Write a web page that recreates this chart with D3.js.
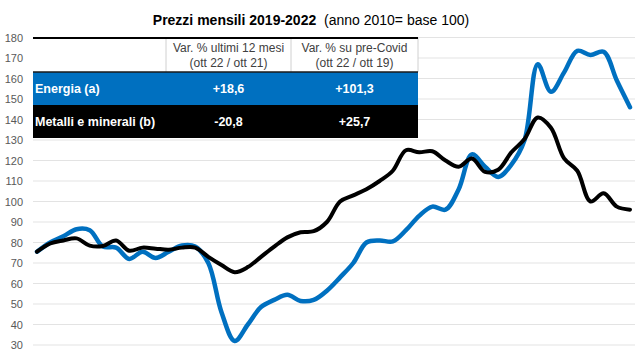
<!DOCTYPE html>
<html>
<head>
<meta charset="utf-8">
<script src="https://cdn.jsdelivr.net/npm/d3@7/dist/d3.min.js"></script>
<style>
  html, body { margin: 0; padding: 0; background: #fff; }
  svg { display: block; font-family: "Liberation Sans", Arial, sans-serif; }
</style>
</head>
<body>
<svg id="chart" width="643" height="362"></svg>
<script>
// ---- data ----
const months = [
  "gen 19","feb 19","mar 19","apr 19","mag 19","giu 19","lug 19","ago 19","set 19","ott 19","nov 19","dic 19",
  "gen 20","feb 20","mar 20","apr 20","mag 20","giu 20","lug 20","ago 20","set 20","ott 20","nov 20","dic 20",
  "gen 21","feb 21","mar 21","apr 21","mag 21","giu 21","lug 21","ago 21","set 21","ott 21","nov 21","dic 21",
  "gen 22","feb 22","mar 22","apr 22","mag 22","giu 22","lug 22","ago 22","set 22","ott 22"
];
const energia = [
  75.5, 80, 83, 86.5, 86, 78, 77.5, 72, 75.5, 72.5, 75.5, 78.5,
  78, 70, 46, 32, 40, 48.5, 52, 54.5, 51.5, 52, 56.5, 63,
  70, 80, 81, 80.5, 86, 93, 97.5, 96, 106, 123, 117, 112,
  118, 130, 167, 153.5, 163, 173.5, 171.5, 173, 159, 146
];
const metalli = [
  75.5, 79.5, 81, 82, 78.5, 78.3, 81, 76, 77.5, 77, 76.5, 77.5,
  77.5, 73, 69, 65.5, 68, 73, 78, 82.5, 85, 85.5, 90, 100,
  103, 106, 110, 115, 125, 124, 124.5, 120, 117, 121, 114.5, 115.5,
  124, 130.5, 141, 136, 121, 115, 100, 104, 97.5, 96
];
const yTicks = [20, 30, 40, 50, 60, 70, 80, 90, 100, 110, 120, 130, 140, 150, 160, 170, 180];

const titleBold = "Prezzi mensili 2019-2022";
const titleRest = "  (anno 2010= base 100)";
const colHeaders = [["Var. % ultimi 12 mesi", "(ott 22 / ott 21)"], ["Var. % su pre-Covid", "(ott 22 / ott 19)"]];
const rowLabels = ["Energia (a)", "Metalli e minerali (b)"];
const var12 = ["+18,6", "-20,8"];
const varCovid = ["+101,3", "+25,7"];
const seriesColors = ["#0070C0", "#000000"];

// ---- chart ----
const svg = d3.select("#chart");
const plotLeft = 33, plotRight = 635;
const x = d3.scalePoint().domain(months).range([37, 630]);
const y = d3.scaleLinear().domain([20, 180]).range([365.5, 37.5]);

// title
const t = svg.append("text").attr("x", 311).attr("y", 25).attr("text-anchor", "middle")
  .attr("font-size", 14).attr("fill", "#000");
t.append("tspan").attr("font-weight", "bold").text(titleBold);
t.append("tspan").attr("xml:space", "preserve").style("white-space", "pre").text(titleRest);

// gridlines
svg.append("g").selectAll("line").data(yTicks).join("line")
  .attr("x1", plotLeft).attr("x2", plotRight)
  .attr("y1", d => y(d)).attr("y2", d => y(d))
  .attr("stroke", "#e3e3e3").attr("stroke-width", 1);

// y axis labels
const yAxis = d3.axisLeft(y).tickValues(yTicks).tickSize(0).tickPadding(0);
const ga = svg.append("g").attr("transform", "translate(23,0)").call(yAxis);
ga.select(".domain").remove();
ga.selectAll("text").attr("font-size", 11).attr("fill", "#595959")
  .attr("font-family", "'Liberation Sans', Arial, sans-serif");

// lines
const line = d3.line().x((d, i) => x(months[i])).y(d => y(d)).curve(d3.curveCatmullRom.alpha(0.5));
svg.append("path").datum(energia).attr("d", line)
  .attr("fill", "none").attr("stroke", seriesColors[0]).attr("stroke-width", 4.5)
  .attr("stroke-linejoin", "round").attr("stroke-linecap", "round");
svg.append("path").datum(metalli).attr("d", line)
  .attr("fill", "none").attr("stroke", seriesColors[1]).attr("stroke-width", 4)
  .attr("stroke-linejoin", "round").attr("stroke-linecap", "round");

// table
const cx = [33, 166, 291, 418];
const ry = [38, 72, 105, 138];
const tbl = svg.append("g");
tbl.append("rect").attr("x", cx[0]).attr("y", ry[0]).attr("width", cx[3] - cx[0]).attr("height", ry[1] - ry[0])
  .attr("fill", "#fff");
[1, 2].forEach(k => {
  tbl.append("line").attr("x1", cx[k]).attr("x2", cx[k]).attr("y1", ry[0]).attr("y2", ry[1])
    .attr("stroke", "#d0d0d0").attr("stroke-width", 1);
});
tbl.append("line").attr("x1", cx[3]).attr("x2", cx[3]).attr("y1", ry[0]).attr("y2", ry[1])
  .attr("stroke", "#d0d0d0").attr("stroke-width", 1);
tbl.append("line").attr("x1", cx[0]).attr("x2", cx[3]).attr("y1", ry[0]).attr("y2", ry[0])
  .attr("stroke", "#000").attr("stroke-width", 2);
colHeaders.forEach((h, k) => {
  const mid = (cx[k + 1] + cx[k + 2]) / 2;
  h.forEach((s, j) => {
    tbl.append("text").attr("x", mid).attr("y", 52 + j * 15).attr("text-anchor", "middle")
      .attr("font-size", 12).attr("fill", "#404040").text(s);
  });
});
rowLabels.forEach((lab, r) => {
  tbl.append("rect").attr("x", cx[0]).attr("y", ry[r + 1]).attr("width", cx[3] - cx[0])
    .attr("height", ry[r + 2] - ry[r + 1]).attr("fill", seriesColors[r]);
  const cy = (ry[r + 1] + ry[r + 2]) / 2 + 4.5;
  tbl.append("text").attr("x", 35).attr("y", cy).attr("font-size", 12.5).attr("font-weight", "bold")
    .attr("fill", "#fff").text(lab);
  tbl.append("text").attr("x", (cx[1] + cx[2]) / 2).attr("y", cy).attr("text-anchor", "middle")
    .attr("font-size", 12.5).attr("font-weight", "bold").attr("fill", "#fff").text(var12[r]);
  tbl.append("text").attr("x", (cx[2] + cx[3]) / 2).attr("y", cy).attr("text-anchor", "middle")
    .attr("font-size", 12.5).attr("font-weight", "bold").attr("fill", "#fff").text(varCovid[r]);
});
tbl.append("line").attr("x1", cx[0]).attr("x2", cx[3]).attr("y1", ry[1]).attr("y2", ry[1])
  .attr("stroke", "#1a1a1a").attr("stroke-width", 1.5);
</script>
</body>
</html>
